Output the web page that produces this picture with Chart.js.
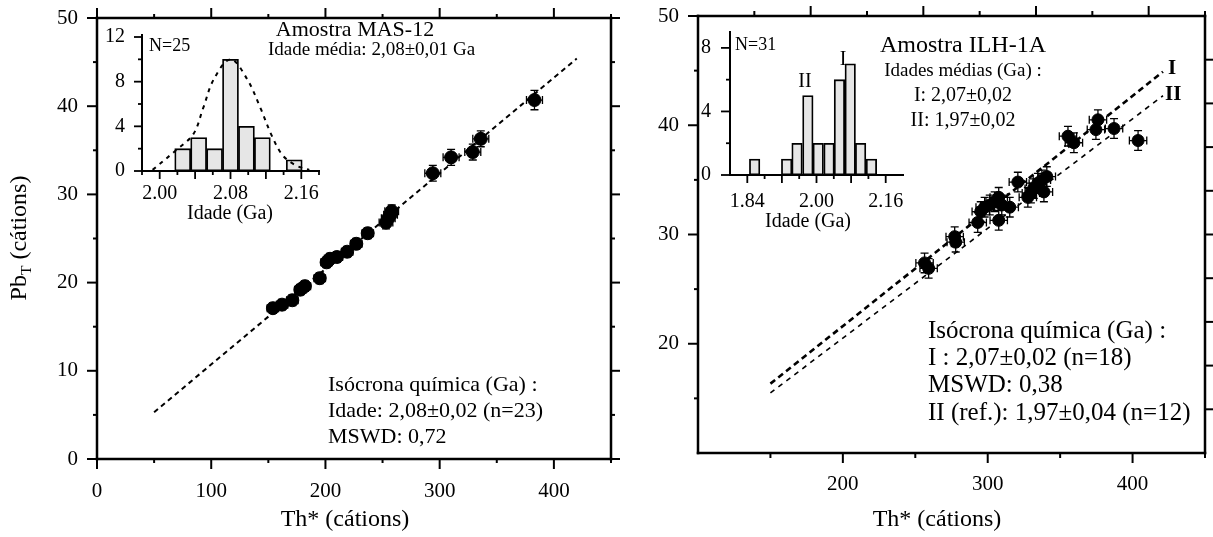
<!DOCTYPE html>
<html lang="pt">
<head>
<meta charset="UTF-8">
<title>Isócronas químicas</title>
<script src="https://cdn.jsdelivr.net/npm/chart.js"></script>
<style>
  body { margin: 0; background: #fff; }
  #wrap { position: relative; width: 1213px; height: 537px; overflow: hidden; }
  #wrap canvas { position: absolute; }
</style>
</head>
<body>
<div id="wrap">
  <canvas id="masChart" width="620" height="537" style="left:0;top:0"></canvas>
  <canvas id="ilhChart" width="600" height="537" style="left:613px;top:0"></canvas>
  <canvas id="masHist" width="230" height="200" style="left:100px;top:25px"></canvas>
  <canvas id="ilhHist" width="225" height="215" style="left:690px;top:20px"></canvas>
</div>
<script>
// ---- amostra MAS-12 (esquerda) ----
const masTh  = [154, 162, 171, 178, 182, 195, 201, 204, 210, 219, 227, 237, 253, 255, 257, 258, 294, 310, 329, 336, 383];
const masPb  = [17.1, 17.5, 18.0, 19.2, 19.6, 20.5, 22.3, 22.7, 22.9, 23.5, 24.4, 25.6, 26.8, 27.3, 27.7, 28.1, 32.4, 34.2, 34.8, 36.3, 40.7];
const masErrTh = [5, 5, 5, 5, 5, 5, 5, 5, 5, 5, 5, 5, 6, 6, 6, 6, 7, 7, 7, 7, 7];
const masErrPb = [0.6, 0.6, 0.6, 0.6, 0.6, 0.6, 0.6, 0.6, 0.6, 0.6, 0.6, 0.6, 0.7, 0.7, 0.7, 0.7, 0.9, 0.9, 0.9, 0.9, 1.1];
const masLineTh = [50, 420];
const masLinePb = [5.3, 45.4];
const masXTicks = [0, 100, 200, 300, 400];
const masYTicks = [0, 10, 20, 30, 40, 50];

const masAges   = [2.026, 2.044, 2.062, 2.080, 2.098, 2.116, 2.152];
const masCounts = [2, 3, 2, 10, 4, 3, 1];
const masFitAge = [1.992, 2.019, 2.038, 2.049, 2.061, 2.080, 2.099, 2.114, 2.127, 2.139, 2.154, 2.169];
const masFitN   = [0.1, 1.9, 3.3, 5.6, 8.2, 10.0, 8.2, 5.6, 3.1, 1.4, 0.5, 0.1];
const masHistXTicks = [2.00, 2.08, 2.16];
const masHistYTicks = [0, 4, 8, 12];

// ---- amostra ILH-1A (direita) ----
const ilhTh = [256.4, 259.2, 277.2, 277.9, 293.1, 295.2, 297.9, 301.4, 304.8, 307.6, 307.6, 309.7, 315.2, 320.8,
               327.7, 329.8, 331.8, 334.6, 337.4, 340.8, 338.8, 355.4, 359.5, 374.7, 376.1, 387.2, 403.8];
const ilhPb = [27.4, 26.9, 29.8, 29.3, 31.1, 32.1, 32.5, 32.7, 33.0, 33.4, 31.3, 32.7, 32.5, 34.8,
               33.4, 33.8, 34.2, 34.7, 35.0, 35.3, 33.9, 39.0, 38.4, 39.6, 40.5, 39.7, 38.6];
const ilhErrTh = 6;
const ilhErrPb = 0.9;
const ilhLineITh = [150, 421];
const ilhLineIPb = [16.35, 44.9];
const ilhLineIITh = [150, 421];
const ilhLineIIPb = [15.5, 42.7];
const ilhXTicks = [200, 300, 400];
const ilhYTicks = [20, 30, 40, 50];

const ilhAges   = [1.857, 1.931, 1.955, 1.980, 2.004, 2.029, 2.053, 2.078, 2.102, 2.127];
const ilhCounts = [1, 1, 2, 5, 2, 2, 6, 7, 2, 1];
const ilhHistXTicks = [1.84, 2.00, 2.16];
const ilhHistYTicks = [0, 4, 8];

const FONT = '"Liberation Serif", "Times New Roman", serif';
Chart.defaults.font.family = FONT;
Chart.defaults.color = '#000';

function range(a, b, step) {
  const out = [];
  for (let v = a; v <= b + step / 1000; v += step) out.push(Math.round(v * 1000) / 1000);
  return out;
}
function pts(xs, ys) { return xs.map((x, i) => ({x: x, y: ys[i]})); }

// moldura com ticks maiores e menores
const frame = {
  id: 'frame',
  afterDatasetsDraw(chart, args, o) {
    const ctx = chart.ctx, a = chart.chartArea;
    ctx.save();
    ctx.strokeStyle = '#000';
    o.sides.forEach(s => {
      const sc = chart.scales[s.scale];
      const horiz = s.edge === 'top' || s.edge === 'bottom';
      const pos = a[s.edge];
      const sign = (s.edge === 'left' || s.edge === 'top') ? -1 : 1;
      ctx.lineWidth = o.width;
      ctx.lineCap = 'square';
      ctx.beginPath();
      if (horiz) { ctx.moveTo(a.left, pos); ctx.lineTo(a.right + (s.ext || 0), pos); }
      else { ctx.moveTo(pos, a.top - (s.ext || 0)); ctx.lineTo(pos, a.bottom); }
      ctx.stroke();
      ctx.lineCap = 'butt';
      ctx.lineWidth = o.tickWidth;
      const mark = (v, len) => {
        const p = sc.getPixelForValue(v);
        ctx.beginPath();
        if (horiz) { ctx.moveTo(p, pos); ctx.lineTo(p, pos + sign * len); }
        else { ctx.moveTo(pos, p); ctx.lineTo(pos + sign * len, p); }
        ctx.stroke();
      };
      s.major.forEach(v => mark(v, s.len));
      (s.minor || []).forEach(v => mark(v, s.minLen));
    });
    ctx.restore();
  }
};

// barras de erro (x e y)
const errorBars = {
  id: 'errorBars',
  beforeDatasetsDraw(chart, args, o) {
    if (!o.xs) return;
    const sx = chart.scales.x, sy = chart.scales.y, ctx = chart.ctx;
    const cap = 4;
    ctx.save();
    ctx.strokeStyle = '#000';
    ctx.lineWidth = 1.3;
    o.xs.forEach((xv, i) => {
      const yv = o.ys[i];
      const ex = Array.isArray(o.ex) ? o.ex[i] : o.ex;
      const ey = Array.isArray(o.ey) ? o.ey[i] : o.ey;
      const px = sx.getPixelForValue(xv), py = sy.getPixelForValue(yv);
      const x0 = sx.getPixelForValue(xv - ex), x1 = sx.getPixelForValue(xv + ex);
      const y0 = sy.getPixelForValue(yv - ey), y1 = sy.getPixelForValue(yv + ey);
      ctx.beginPath();
      ctx.moveTo(x0, py); ctx.lineTo(x1, py);
      ctx.moveTo(x0, py - cap); ctx.lineTo(x0, py + cap);
      ctx.moveTo(x1, py - cap); ctx.lineTo(x1, py + cap);
      ctx.moveTo(px, y0); ctx.lineTo(px, y1);
      ctx.moveTo(px - cap, y0); ctx.lineTo(px + cap, y0);
      ctx.moveTo(px - cap, y1); ctx.lineTo(px + cap, y1);
      ctx.stroke();
    });
    ctx.restore();
  }
};

// textos livres (com subscrito opcional)
const notes = {
  id: 'notes',
  afterDraw(chart, args, o) {
    const ctx = chart.ctx;
    o.items.forEach(n => {
      ctx.save();
      ctx.translate(n.x, n.y);
      if (n.rot) ctx.rotate(n.rot);
      ctx.fillStyle = '#000';
      ctx.textBaseline = 'middle';
      const f = (sz) => (n.bold ? 'bold ' : '') + sz + 'px ' + FONT;
      const parts = n.parts || [{t: n.t}];
      let w = 0;
      parts.forEach(p => { ctx.font = f(p.sub ? n.size * 0.65 : n.size); w += ctx.measureText(p.t).width; });
      let x = n.align === 'center' ? -w / 2 : (n.align === 'right' ? -w : 0);
      ctx.textAlign = 'left';
      parts.forEach(p => {
        ctx.font = f(p.sub ? n.size * 0.65 : n.size);
        ctx.fillText(p.t, x, p.sub ? n.size * 0.3 : 0);
        x += ctx.measureText(p.t).width;
      });
      ctx.restore();
    });
  }
};

function fixedTicks(list) {
  return s => { s.ticks = list.map(v => ({value: v})); };
}
// a distância rótulo-eixo fica no tickLength (invisível) para não empurrar a área do gráfico
const gridGap = (gap) => ({display: false, drawTicks: true, tickLength: gap});
const noBorder = {display: false};
const tickFont = {size: 21};

// ---------- gráfico MAS-12 ----------
new Chart(document.getElementById('masChart'), {
  type: 'scatter',
  data: {
    datasets: [
      {type: 'line', data: pts(masLineTh, masLinePb), borderColor: '#000', borderWidth: 2,
       borderDash: [5, 4], pointRadius: 0, fill: false},
      {data: pts(masTh, masPb), backgroundColor: '#000', borderColor: '#000', pointRadius: 6.5}
    ]
  },
  options: {
    responsive: false, animation: false,
    layout: {padding: {left: 0, top: 18, right: 9, bottom: 0}},
    plugins: {
      legend: {display: false}, tooltip: {enabled: false},
      errorBars: {xs: masTh, ys: masPb, ex: masErrTh, ey: masErrPb},
      frame: {width: 2.5, tickWidth: 2, sides: [
        {edge: 'left', scale: 'y', major: range(0, 50, 10), minor: range(5, 45, 10), len: 10, minLen: 4},
        {edge: 'right', scale: 'y', major: range(0, 50, 10), minor: range(5, 45, 10), len: 10, minLen: 4},
        {edge: 'bottom', scale: 'x', major: range(0, 400, 100), minor: range(50, 450, 100), len: 10, minLen: 4},
        {edge: 'top', scale: 'x', major: range(0, 400, 100), minor: range(50, 450, 100), len: 10, minLen: 4}
      ]},
      notes: {items: [
        {t: 'Amostra MAS-12', x: 355, y: 30, size: 22, align: 'center'},
        {t: 'Idade média: 2,08±0,01 Ga', x: 268, y: 50, size: 19},
        {t: 'Isócrona química (Ga) :', x: 328, y: 385, size: 22},
        {t: 'Idade: 2,08±0,02 (n=23)', x: 328, y: 411, size: 22},
        {t: 'MSWD: 0,72', x: 328, y: 437, size: 22},
        {t: 'Th* (cátions)', x: 345, y: 520, size: 24, align: 'center'},
        {parts: [{t: 'Pb'}, {t: 'T', sub: true}, {t: ' (cátions)'}], x: 20, y: 238, size: 24,
         align: 'center', rot: -Math.PI / 2}
      ]}
    },
    scales: {
      x: {type: 'linear', min: 0, max: 450, grid: gridGap(20), border: noBorder,
          afterBuildTicks: fixedTicks(masXTicks),
          ticks: {padding: 0, font: tickFont, autoSkip: false, maxRotation: 0},
          afterFit: s => { s.height = 78; }},
      y: {min: 0, max: 50, grid: gridGap(19), border: noBorder,
          afterBuildTicks: fixedTicks(masYTicks),
          ticks: {padding: 0, font: tickFont, autoSkip: false},
          afterFit: s => { s.width = 97; }}
    }
  },
  plugins: [errorBars, frame, notes]
});

// ---------- gráfico ILH-1A ----------
new Chart(document.getElementById('ilhChart'), {
  type: 'scatter',
  data: {
    datasets: [
      {type: 'line', data: pts(ilhLineITh, ilhLineIPb), borderColor: '#000', borderWidth: 2.6,
       borderDash: [6, 4], pointRadius: 0, fill: false},
      {type: 'line', data: pts(ilhLineIITh, ilhLineIIPb), borderColor: '#000', borderWidth: 1.6,
       borderDash: [5, 5], pointRadius: 0, fill: false},
      {data: pts(ilhTh, ilhPb), backgroundColor: '#000', borderColor: '#000', pointRadius: 6}
    ]
  },
  options: {
    responsive: false, animation: false,
    layout: {padding: {left: 0, top: 16, right: 8, bottom: 0}},
    plugins: {
      legend: {display: false}, tooltip: {enabled: false},
      errorBars: {xs: ilhTh, ys: ilhPb, ex: ilhErrTh, ey: ilhErrPb},
      frame: {width: 2.5, tickWidth: 2, sides: [
        {edge: 'left', scale: 'y', major: range(20, 50, 10), minor: range(15, 45, 10), len: 10, minLen: 4},
        {edge: 'bottom', scale: 'x', major: range(200, 400, 100), minor: range(150, 450, 100), len: 10, minLen: 5},
        {edge: 'top', scale: 'x2', major: [2, 4, 6, 8], minor: [1, 3, 5, 7, 9], len: 10, minLen: 5},
        {edge: 'right', scale: 'y2', major: [2, 4, 6, 8], minor: [1, 3, 5, 7, 9], len: 8, minLen: 8}
      ]},
      notes: {items: [
        {t: 'Amostra ILH-1A', x: 350, y: 46, size: 24, align: 'center'},
        {t: 'Idades médias (Ga) :', x: 350, y: 71, size: 19, align: 'center'},
        {t: 'I: 2,07±0,02', x: 350, y: 96, size: 20, align: 'center'},
        {t: 'II: 1,97±0,02', x: 350, y: 121, size: 20, align: 'center'},
        {t: 'I', x: 555, y: 69, size: 21, bold: true},
        {t: 'II', x: 552, y: 95, size: 21, bold: true},
        {t: 'Isócrona química (Ga) :', x: 315, y: 331, size: 25},
        {t: 'I : 2,07±0,02 (n=18)', x: 315, y: 358, size: 25},
        {t: 'MSWD: 0,38', x: 315, y: 385, size: 25},
        {t: 'II (ref.): 1,97±0,04 (n=12)', x: 315, y: 413, size: 25},
        {t: 'Th* (cátions)', x: 324, y: 520, size: 24, align: 'center'}
      ]}
    },
    scales: {
      x: {type: 'linear', min: 100, max: 450, grid: gridGap(19), border: noBorder,
          afterBuildTicks: fixedTicks(ilhXTicks),
          ticks: {padding: 0, font: tickFont, autoSkip: false, maxRotation: 0},
          afterFit: s => { s.height = 84; }},
      y: {min: 10, max: 50, grid: gridGap(19), border: noBorder,
          afterBuildTicks: fixedTicks(ilhYTicks),
          ticks: {padding: 0, font: tickFont, autoSkip: false},
          afterFit: s => { s.width = 85; }},
      x2: {type: 'linear', position: 'top', min: 0, max: 9, display: false},
      y2: {type: 'linear', position: 'right', min: 0, max: 10, display: false}
    }
  },
  plugins: [errorBars, frame, notes]
});

// ---------- histogramas ----------
function histChart(id, cfg) {
  const datasets = [{
    type: 'bar', data: pts(cfg.ages, cfg.counts), backgroundColor: '#e6e6e6', borderColor: '#000',
    borderWidth: 1.8, borderSkipped: false, barThickness: cfg.barW, order: 2
  }];
  if (cfg.fitX) {
    datasets.push({type: 'line', data: pts(cfg.fitX, cfg.fitY), borderColor: '#000', borderWidth: 2,
      borderDash: [4, 5], pointRadius: 0, tension: 0.35, fill: false, order: 1});
  }
  return new Chart(document.getElementById(id), {
    type: 'bar',
    data: {datasets: datasets},
    options: {
      responsive: false, animation: false,
      layout: {padding: cfg.pad},
      plugins: {
        legend: {display: false}, tooltip: {enabled: false},
        frame: {width: 2, tickWidth: 1.8, sides: cfg.sides},
        notes: {items: cfg.notes}
      },
      scales: {
        x: {type: 'linear', offset: false, min: cfg.xmin, max: cfg.xmax, grid: gridGap(cfg.xPad), border: noBorder,
            afterBuildTicks: fixedTicks(cfg.xTicks),
            ticks: {padding: 0, font: {size: 20}, autoSkip: false, maxRotation: 0,
                    callback: v => Number(v).toFixed(2)},
            afterFit: s => { s.height = cfg.xH; }},
        y: {min: 0, max: cfg.ymax, grid: gridGap(cfg.yPad), border: noBorder,
            afterBuildTicks: fixedTicks(cfg.yTicks),
            ticks: {padding: 0, font: {size: 20}, autoSkip: false},
            afterFit: s => { s.width = cfg.yW; }}
      }
    },
    plugins: [frame, notes]
  });
}

histChart('masHist', {
  ages: masAges, counts: masCounts, fitX: masFitAge, fitY: masFitN, barW: 16,
  xmin: 1.98, xmax: 2.18, ymax: 12, xTicks: masHistXTicks, yTicks: masHistYTicks,
  pad: {left: 0, top: 8, right: 11, bottom: 0}, xH: 54, yW: 42, xPad: 11, yPad: 17,
  sides: [
    {edge: 'left', scale: 'y', major: [0, 4, 8, 12], minor: [2, 6, 10], len: 8, minLen: 4, ext: 2},
    {edge: 'bottom', scale: 'x', major: range(2.00, 2.16, 0.04), minor: range(1.98, 2.18, 0.04), len: 8, minLen: 4}
  ],
  notes: [
    {t: 'N=25', x: 49, y: 21, size: 18},
    {t: 'Idade (Ga)', x: 130, y: 189, size: 20, align: 'center'}
  ]
});

histChart('ilhHist', {
  ages: ilhAges, counts: ilhCounts, barW: 10.5,
  xmin: 1.80, xmax: 2.20, ymax: 9, xTicks: ilhHistXTicks, yTicks: ilhHistYTicks,
  pad: {left: 0, top: 11, right: 12, bottom: 0}, xH: 60, yW: 40, xPad: 15, yPad: 19,
  sides: [
    {edge: 'left', scale: 'y', major: [0, 4, 8], minor: [2, 6], len: 9, minLen: 4},
    {edge: 'bottom', scale: 'x', major: range(1.84, 2.16, 0.08), minor: range(1.88, 2.12, 0.08), len: 8, minLen: 4}
  ],
  notes: [
    {t: 'N=31', x: 45, y: 25, size: 18},
    {t: 'II', x: 115, y: 62, size: 20, align: 'center'},
    {t: 'I', x: 153, y: 40, size: 20, align: 'center'},
    {t: 'Idade (Ga)', x: 118, y: 202, size: 20, align: 'center'}
  ]
});
</script>
</body>
</html>
